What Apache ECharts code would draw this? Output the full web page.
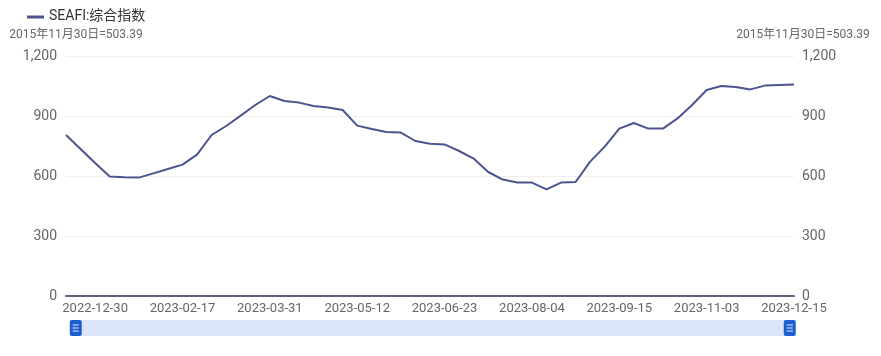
<!DOCTYPE html>
<html>
<head>
<meta charset="utf-8">
<script src="https://cdn.jsdelivr.net/npm/echarts@6/dist/echarts.min.js"></script>
<style>html,body{margin:0;padding:0;background:#fff}#c{width:881px;height:356px}</style>
</head>
<body>
<div id="c"></div>
<script>
const seriesName = 'SEAFI:综合指数';
const axisName = '2015年11月30日=503.39';
const dates = ['2022-12-16','2022-12-23','2022-12-30','2023-01-06','2023-01-13','2023-01-20','2023-02-03','2023-02-10','2023-02-17','2023-02-24','2023-03-03','2023-03-10','2023-03-17','2023-03-24','2023-03-31','2023-04-07','2023-04-14','2023-04-21','2023-04-28','2023-05-05','2023-05-12','2023-05-19','2023-05-26','2023-06-02','2023-06-09','2023-06-16','2023-06-23','2023-06-30','2023-07-07','2023-07-14','2023-07-21','2023-07-28','2023-08-04','2023-08-11','2023-08-18','2023-08-25','2023-09-01','2023-09-08','2023-09-15','2023-09-22','2023-09-28','2023-10-13','2023-10-20','2023-10-27','2023-11-03','2023-11-10','2023-11-17','2023-11-24','2023-12-01','2023-12-08','2023-12-15'];
const values = [805,735,665,597,594,592,613,635,657,707,805,850,902,955,1000,975,967,950,942,930,852,835,820,817,775,761,758,725,687,620,582,567,567,533,567,570,672,747,837,865,837,837,888,955,1030,1050,1045,1033,1052,1055,1057];
const yTicks = [0,300,600,900,1200];

const font = 'Roboto, "Noto Sans CJK SC", sans-serif';
const chart = echarts.init(document.getElementById('c'));
const yAxisCommon = {
  type: 'value', min: yTicks[0], max: yTicks[yTicks.length-1], interval: yTicks[1]-yTicks[0],
  name: axisName, nameGap: 15,
  axisLine: {show: false}, axisTick: {show: false},
  axisLabel: {color: '#666', fontSize: 14, fontFamily: font, formatter: v => v.toLocaleString('en-US')}
};
chart.setOption({
  animation: false,
  textStyle: {fontFamily: font},
  legend: {left: 22, top: 5, icon: 'rect', itemWidth: 17, itemHeight: 3, itemGap: 10,
    textStyle: {color: '#333', fontSize: 14, fontFamily: font}},
  grid: {left: 66, right: 87, top: 56, bottom: 60},
  xAxis: {
    type: 'category', data: dates, boundaryGap: false,
    axisLine: {lineStyle: {color: '#5c6478', width: 2}},
    axisTick: {show: false},
    axisLabel: {color: '#666', fontSize: 13, fontFamily: font, margin: 6,
      interval: (i) => i % 6 === 2}
  },
  yAxis: [
    Object.assign({}, yAxisCommon, {position: 'left',
      splitLine: {lineStyle: {color: '#eeeeee'}},
      nameTextStyle: {color: '#666', fontSize: 12, fontFamily: font, padding: [0,0,0,20]},
      axisLabel: Object.assign({}, yAxisCommon.axisLabel, {margin: 9})}),
    Object.assign({}, yAxisCommon, {position: 'right',
      splitLine: {show: false},
      nameTextStyle: {color: '#666', fontSize: 12, fontFamily: font, padding: [0,0,0,18]},
      axisLabel: Object.assign({}, yAxisCommon.axisLabel, {margin: 8})})
  ],
  dataZoom: [{
    type: 'slider', xAxisIndex: 0, start: 0, end: 100,
    left: 74, right: 91, bottom: 20, height: 16,
    backgroundColor: 'transparent', borderColor: 'transparent',
    fillerColor: '#dce6f8',
    showDataShadow: false, showDetail: false, brushSelect: false,
    moveHandleSize: 0,
    handleIcon: 'path://M2,0 H10 A2,2 0 0 1 12,2 V14 A2,2 0 0 1 10,16 H2 A2,2 0 0 1 0,14 V2 A2,2 0 0 1 2,0 Z M3,4.5 V5.5 H9 V4.5 Z M3,7.5 V8.5 H9 V7.5 Z M3,10.5 V11.5 H9 V10.5 Z',
    handleSize: '100%',
    handleStyle: {color: '#1d5fd1', borderColor: '#1d5fd1', borderWidth: 0}
  }],
  series: [{
    name: seriesName, type: 'line', data: values, yAxisIndex: 0,
    showSymbol: false, symbol: 'none',
    lineStyle: {color: '#4a5590', width: 2},
    itemStyle: {color: '#4a5590'}
  }]
});
</script>
</body>
</html>
